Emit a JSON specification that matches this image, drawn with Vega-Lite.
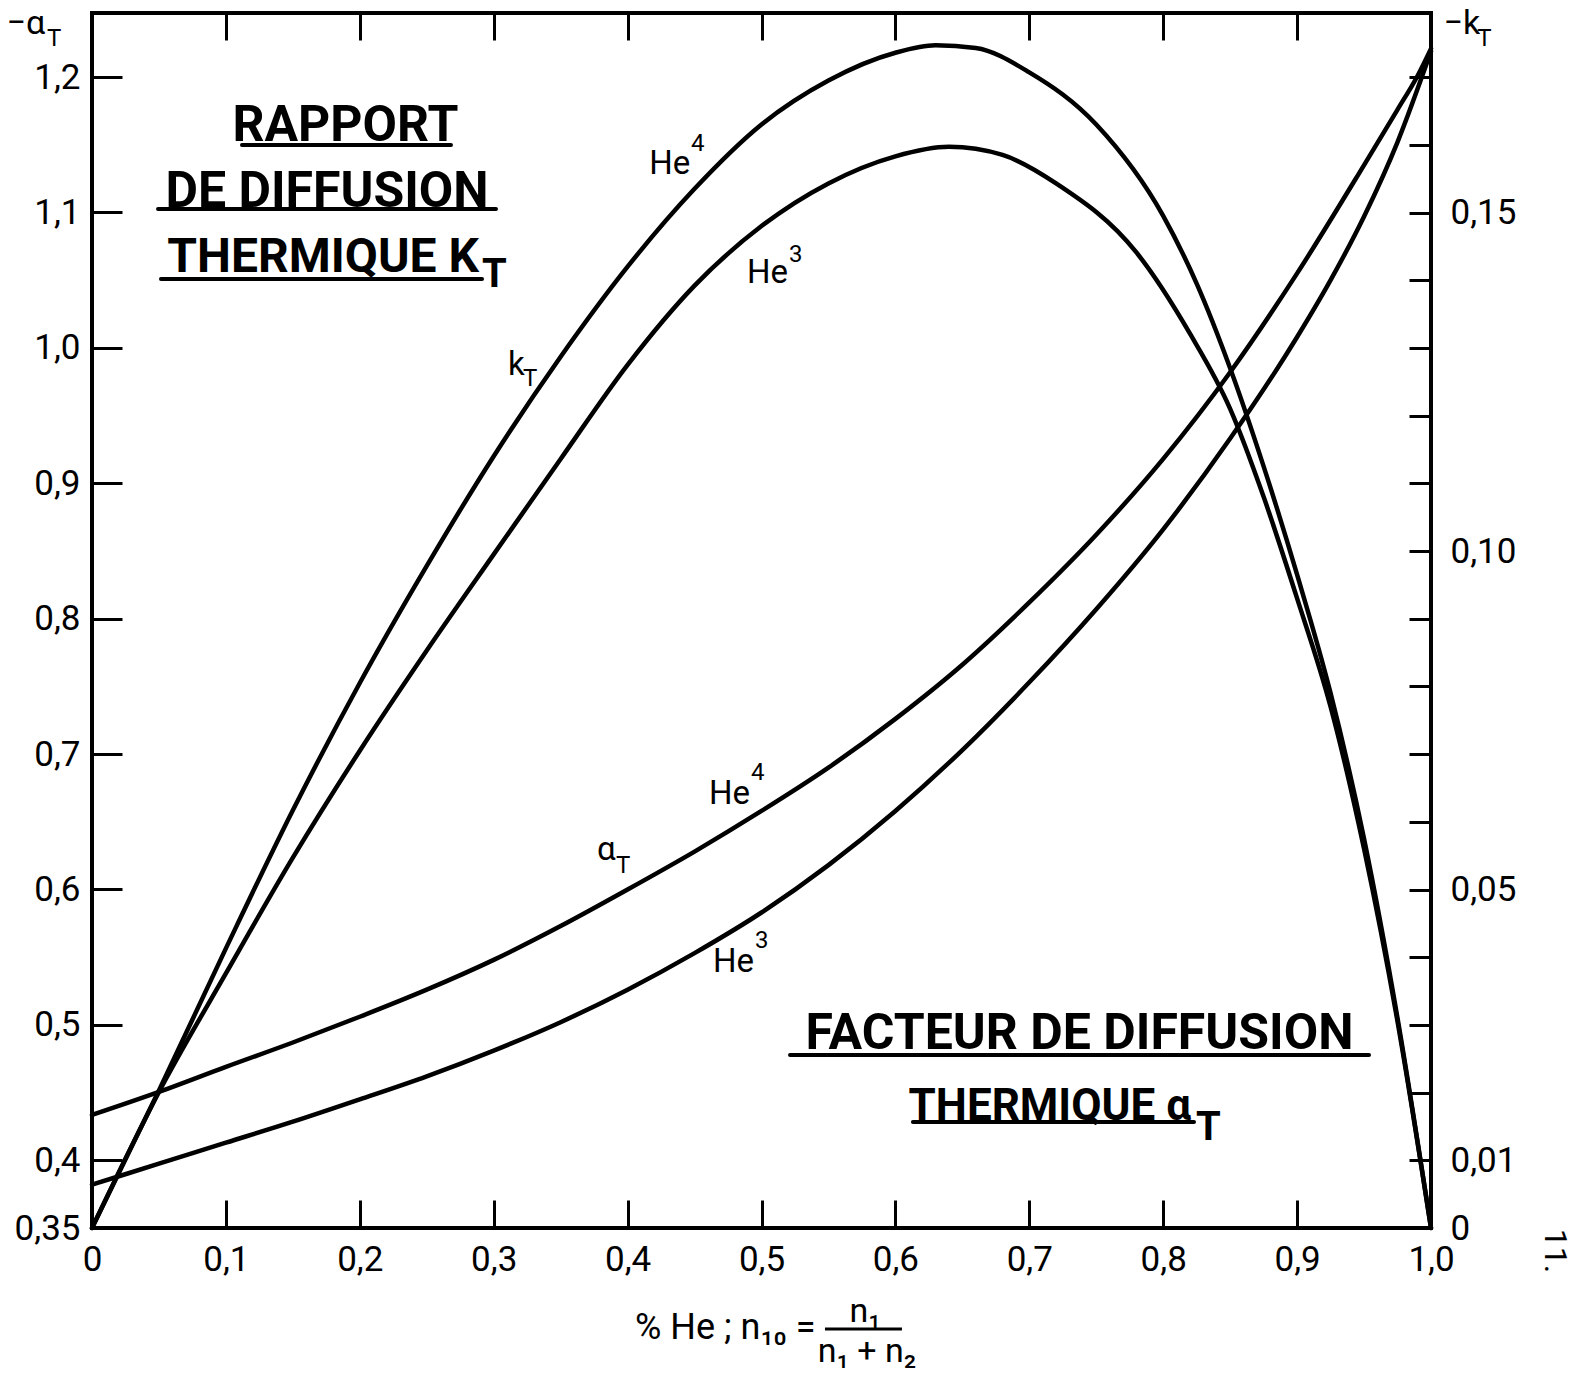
{
  "$schema": "https://vega.github.io/schema/vega-lite/v6.json",
  "width": 1339,
  "height": 1215,
  "autosize": {"type": "none"},
  "padding": {"left": 92, "top": 13, "right": 151, "bottom": 149},
  "background": "white",
  "config": {
    "view": {"stroke": "black", "strokeWidth": 4},
    "font": "Roboto",
    "axis": {"domain": false, "grid": false, "tickColor": "black", "tickWidth": 3, "labelColor": "black", "labelFont": "Roboto", "labelFontSize": 35, "titleColor": "black", "titleFont": "Roboto", "titleFontWeight": "normal", "titleFontSize": 35}
  },
  "datasets": {
    "alpha": [
      {"x": 0, "a": 0.4335, "s": "He4"}, {"x": 0.05, "a": 0.4505, "s": "He4"}, {"x": 0.1, "a": 0.469, "s": "He4"}, {"x": 0.15, "a": 0.487, "s": "He4"}, {"x": 0.2, "a": 0.506, "s": "He4"}, {"x": 0.25, "a": 0.526, "s": "He4"}, {"x": 0.3, "a": 0.548, "s": "He4"}, {"x": 0.35, "a": 0.573, "s": "He4"}, {"x": 0.4, "a": 0.6, "s": "He4"}, {"x": 0.45, "a": 0.628, "s": "He4"}, {"x": 0.5, "a": 0.658, "s": "He4"}, {"x": 0.55, "a": 0.69, "s": "He4"}, {"x": 0.6, "a": 0.726, "s": "He4"}, {"x": 0.65, "a": 0.766, "s": "He4"}, {"x": 0.7, "a": 0.812, "s": "He4"}, {"x": 0.75, "a": 0.862, "s": "He4"}, {"x": 0.8, "a": 0.918, "s": "He4"}, {"x": 0.85, "a": 0.982, "s": "He4"}, {"x": 0.9, "a": 1.055, "s": "He4"}, {"x": 0.95, "a": 1.135, "s": "He4"}, {"x": 0.975, "a": 1.176, "s": "He4"}, {"x": 0.99, "a": 1.201, "s": "He4"}, {"x": 1.0, "a": 1.221, "s": "He4"},
      {"x": 0, "a": 0.382, "s": "He3"}, {"x": 0.05, "a": 0.3975, "s": "He3"}, {"x": 0.1, "a": 0.413, "s": "He3"}, {"x": 0.15, "a": 0.4285, "s": "He3"}, {"x": 0.2, "a": 0.445, "s": "He3"}, {"x": 0.25, "a": 0.462, "s": "He3"}, {"x": 0.3, "a": 0.481, "s": "He3"}, {"x": 0.35, "a": 0.502, "s": "He3"}, {"x": 0.4, "a": 0.526, "s": "He3"}, {"x": 0.45, "a": 0.553, "s": "He3"}, {"x": 0.5, "a": 0.583, "s": "He3"}, {"x": 0.55, "a": 0.618, "s": "He3"}, {"x": 0.6, "a": 0.658, "s": "He3"}, {"x": 0.65, "a": 0.703, "s": "He3"}, {"x": 0.7, "a": 0.753, "s": "He3"}, {"x": 0.75, "a": 0.807, "s": "He3"}, {"x": 0.8, "a": 0.866, "s": "He3"}, {"x": 0.85, "a": 0.933, "s": "He3"}, {"x": 0.9, "a": 1.008, "s": "He3"}, {"x": 0.925, "a": 1.05, "s": "He3"}, {"x": 0.95, "a": 1.097, "s": "He3"}, {"x": 0.975, "a": 1.152, "s": "He3"}, {"x": 1.0, "a": 1.219, "s": "He3"}
    ],
    "kt": [
      {"x": 0, "k": 0, "s": "He4"}, {"x": 0.05, "k": 0.0203, "s": "He4"}, {"x": 0.1, "k": 0.0413, "s": "He4"}, {"x": 0.15, "k": 0.0617, "s": "He4"}, {"x": 0.2, "k": 0.0805, "s": "He4"}, {"x": 0.25, "k": 0.0978, "s": "He4"}, {"x": 0.3, "k": 0.114, "s": "He4"}, {"x": 0.35, "k": 0.1287, "s": "He4"}, {"x": 0.4, "k": 0.142, "s": "He4"}, {"x": 0.45, "k": 0.1535, "s": "He4"}, {"x": 0.5, "k": 0.163, "s": "He4"}, {"x": 0.55, "k": 0.1695, "s": "He4"}, {"x": 0.6, "k": 0.1736, "s": "He4"}, {"x": 0.63, "k": 0.1747, "s": "He4"}, {"x": 0.66, "k": 0.1743, "s": "He4"}, {"x": 0.7, "k": 0.1707, "s": "He4"}, {"x": 0.75, "k": 0.163, "s": "He4"}, {"x": 0.8, "k": 0.1495, "s": "He4"}, {"x": 0.825, "k": 0.1395, "s": "He4"}, {"x": 0.85, "k": 0.127, "s": "He4"}, {"x": 0.875, "k": 0.1125, "s": "He4"}, {"x": 0.9, "k": 0.0965, "s": "He4"}, {"x": 0.925, "k": 0.079, "s": "He4"}, {"x": 0.95, "k": 0.0575, "s": "He4"}, {"x": 0.975, "k": 0.031, "s": "He4"}, {"x": 1.0, "k": 0, "s": "He4"},
      {"x": 0, "k": 0, "s": "He3"}, {"x": 0.05, "k": 0.0201, "s": "He3"}, {"x": 0.1, "k": 0.0376, "s": "He3"}, {"x": 0.15, "k": 0.0547, "s": "He3"}, {"x": 0.2, "k": 0.0705, "s": "He3"}, {"x": 0.25, "k": 0.0853, "s": "He3"}, {"x": 0.3, "k": 0.0995, "s": "He3"}, {"x": 0.35, "k": 0.1136, "s": "He3"}, {"x": 0.4, "k": 0.1275, "s": "He3"}, {"x": 0.45, "k": 0.1392, "s": "He3"}, {"x": 0.5, "k": 0.148, "s": "He3"}, {"x": 0.55, "k": 0.1543, "s": "He3"}, {"x": 0.6, "k": 0.1583, "s": "He3"}, {"x": 0.64, "k": 0.1597, "s": "He3"}, {"x": 0.68, "k": 0.1585, "s": "He3"}, {"x": 0.72, "k": 0.1543, "s": "He3"}, {"x": 0.78, "k": 0.1441, "s": "He3"}, {"x": 0.82, "k": 0.1321, "s": "He3"}, {"x": 0.85, "k": 0.121, "s": "He3"}, {"x": 0.875, "k": 0.108, "s": "He3"}, {"x": 0.9, "k": 0.093, "s": "He3"}, {"x": 0.925, "k": 0.077, "s": "He3"}, {"x": 0.95, "k": 0.056, "s": "He3"}, {"x": 0.975, "k": 0.0305, "s": "He3"}, {"x": 1.0, "k": 0, "s": "He3"}
    ],
    "curveLabels": [
      {"x": 0.4161, "a": 1.1284, "t": "He"},
      {"x": 0.4892, "a": 1.0479, "t": "He"},
      {"x": 0.3107, "a": 0.98, "t": "k"},
      {"x": 0.3771, "a": 0.6218, "t": "α"},
      {"x": 0.4608, "a": 0.6631, "t": "He"},
      {"x": 0.4638, "a": 0.5391, "t": "He"}
    ],
    "smallLabels": [
      {"x": 0.4474, "a": 1.1454, "t": "4"},
      {"x": 0.5205, "a": 1.0634, "t": "3"},
      {"x": 0.3219, "a": 0.9719, "t": "T"},
      {"x": 0.3913, "a": 0.6122, "t": "T"},
      {"x": 0.4922, "a": 0.6809, "t": "4"},
      {"x": 0.4952, "a": 0.5568, "t": "3"},
      {"x": -0.0336, "a": 1.223, "t": "T"},
      {"x": 1.0345, "a": 1.223, "t": "T"}
    ],
    "titlesCenter": [
      {"x": 0.1893, "a": 1.1528, "t": "RAPPORT"},
      {"x": 0.1755, "a": 1.1041, "t": "DE DIFFUSION"},
      {"x": 0.7375, "a": 0.4822, "t": "FACTEUR DE DIFFUSION"}
    ],
    "titleK": [
      {"x": 0.289, "a": 1.0561, "t": "THERMIQUE K"}
    ],
    "titleAlpha": [
      {"x": 0.8208, "a": 0.4298, "t": "THERMIQUE α"}
    ],
    "titleSubs": [
      {"x": 0.2913, "a": 1.045, "t": "T"},
      {"x": 0.8245, "a": 0.415, "t": "T"}
    ],
    "underlines": [
      {"x": 0.112, "x2": 0.2681, "a": 1.1499},
      {"x": 0.0493, "x2": 0.3017, "a": 1.1026},
      {"x": 0.0515, "x2": 0.2913, "a": 1.0509},
      {"x": 0.5213, "x2": 0.9537, "a": 0.4778},
      {"x": 0.6131, "x2": 0.823, "a": 0.4283}
    ],
    "fractionText": [
      {"x": 0.5773, "a": 0.2806, "t": "n₁"},
      {"x": 0.5788, "a": 0.251, "t": "n₁ + n₂"}
    ],
    "fractionBar": [
      {"x": 0.5474, "x2": 0.6049, "a": 0.2754}
    ],
    "pageNote": [
      {"x": 1.0926, "a": 0.333, "t": "11."}
    ]
  },
  "layer": [
    {
      "layer": [
        {
          "data": {"name": "alpha"},
          "mark": {"type": "line", "stroke": "black", "strokeWidth": 4.5, "interpolate": "monotone", "strokeCap": "round"},
          "encoding": {
            "x": {"field": "x", "type": "quantitative", "scale": {"domain": [0, 1], "nice": false, "zero": false},
              "axis": {"orient": "bottom", "values": [0, 0.1, 0.2, 0.3, 0.4, 0.5, 0.6, 0.7, 0.8, 0.9, 1.0], "tickSize": -28, "labelPadding": 42, "labelExpr": "datum.value == 0 ? '0' : replace(format(datum.value, '.1f'), '.', ',')", "labelFlush": false, "labelOverlap": false, "title": "% He ; n₁₀ =", "titleX": 723, "titleY": 110, "titleAlign": "right", "titleBaseline": "alphabetic", "titleFontSize": 36}},
            "y": {"field": "a", "type": "quantitative", "scale": {"domain": [0.35, 1.2473], "nice": false, "zero": false},
              "axis": {"orient": "left", "values": [0.35, 0.4, 0.5, 0.6, 0.7, 0.8, 0.9, 1.0, 1.1, 1.2], "tickSize": -30, "labelPadding": 42, "labelExpr": "datum.value < 0.36 ? '0,35' : replace(format(datum.value, '.1f'), '.', ',')", "labelFlush": false, "labelOverlap": false, "title": "−α", "titleAngle": 0, "titleX": -86, "titleY": 20, "titleAlign": "left", "titleBaseline": "alphabetic", "titleFontSize": 34}},
            "detail": {"field": "s", "type": "nominal"}
          }
        },
        {
          "data": {"name": "curveLabels"},
          "mark": {"type": "text", "align": "left", "baseline": "alphabetic", "fontSize": 33, "font": "Roboto", "color": "black"},
          "encoding": {
            "x": {"field": "x", "type": "quantitative", "scale": {"domain": [0, 1], "nice": false, "zero": false}},
            "y": {"field": "a", "type": "quantitative", "scale": {"domain": [0.35, 1.2473], "nice": false, "zero": false}},
            "text": {"field": "t", "type": "nominal"}
          }
        },
        {
          "data": {"name": "smallLabels"},
          "mark": {"type": "text", "align": "left", "baseline": "alphabetic", "fontSize": 24, "font": "Roboto", "color": "black"},
          "encoding": {
            "x": {"field": "x", "type": "quantitative", "scale": {"domain": [0, 1], "nice": false, "zero": false}},
            "y": {"field": "a", "type": "quantitative", "scale": {"domain": [0.35, 1.2473], "nice": false, "zero": false}},
            "text": {"field": "t", "type": "nominal"}
          }
        },
        {
          "data": {"name": "titlesCenter"},
          "mark": {"type": "text", "align": "center", "baseline": "alphabetic", "fontSize": 50, "fontWeight": "bold", "font": "Roboto", "color": "black"},
          "encoding": {
            "x": {"field": "x", "type": "quantitative", "scale": {"domain": [0, 1], "nice": false, "zero": false}},
            "y": {"field": "a", "type": "quantitative", "scale": {"domain": [0.35, 1.2473], "nice": false, "zero": false}},
            "text": {"field": "t", "type": "nominal"}
          }
        },
        {
          "data": {"name": "titleK"},
          "mark": {"type": "text", "align": "right", "baseline": "alphabetic", "fontSize": 48, "fontWeight": "bold", "font": "Roboto", "color": "black"},
          "encoding": {
            "x": {"field": "x", "type": "quantitative", "scale": {"domain": [0, 1], "nice": false, "zero": false}},
            "y": {"field": "a", "type": "quantitative", "scale": {"domain": [0.35, 1.2473], "nice": false, "zero": false}},
            "text": {"field": "t", "type": "nominal"}
          }
        },
        {
          "data": {"name": "titleAlpha"},
          "mark": {"type": "text", "align": "right", "baseline": "alphabetic", "fontSize": 44, "fontWeight": "bold", "font": "Roboto", "color": "black"},
          "encoding": {
            "x": {"field": "x", "type": "quantitative", "scale": {"domain": [0, 1], "nice": false, "zero": false}},
            "y": {"field": "a", "type": "quantitative", "scale": {"domain": [0.35, 1.2473], "nice": false, "zero": false}},
            "text": {"field": "t", "type": "nominal"}
          }
        },
        {
          "data": {"name": "titleSubs"},
          "mark": {"type": "text", "align": "left", "baseline": "alphabetic", "fontSize": 40, "fontWeight": "bold", "font": "Roboto", "color": "black"},
          "encoding": {
            "x": {"field": "x", "type": "quantitative", "scale": {"domain": [0, 1], "nice": false, "zero": false}},
            "y": {"field": "a", "type": "quantitative", "scale": {"domain": [0.35, 1.2473], "nice": false, "zero": false}},
            "text": {"field": "t", "type": "nominal"}
          }
        },
        {
          "data": {"name": "underlines"},
          "mark": {"type": "rule", "stroke": "black", "strokeWidth": 4, "strokeCap": "round"},
          "encoding": {
            "x": {"field": "x", "type": "quantitative", "scale": {"domain": [0, 1], "nice": false, "zero": false}},
            "x2": {"field": "x2"},
            "y": {"field": "a", "type": "quantitative", "scale": {"domain": [0.35, 1.2473], "nice": false, "zero": false}}
          }
        },
        {
          "data": {"name": "fractionText"},
          "mark": {"type": "text", "align": "center", "baseline": "alphabetic", "fontSize": 34, "font": "Roboto", "color": "black"},
          "encoding": {
            "x": {"field": "x", "type": "quantitative", "scale": {"domain": [0, 1], "nice": false, "zero": false}},
            "y": {"field": "a", "type": "quantitative", "scale": {"domain": [0.35, 1.2473], "nice": false, "zero": false}},
            "text": {"field": "t", "type": "nominal"}
          }
        },
        {
          "data": {"name": "fractionBar"},
          "mark": {"type": "rule", "stroke": "black", "strokeWidth": 3},
          "encoding": {
            "x": {"field": "x", "type": "quantitative", "scale": {"domain": [0, 1], "nice": false, "zero": false}},
            "x2": {"field": "x2"},
            "y": {"field": "a", "type": "quantitative", "scale": {"domain": [0.35, 1.2473], "nice": false, "zero": false}}
          }
        },
        {
          "data": {"name": "pageNote"},
          "mark": {"type": "text", "align": "center", "baseline": "middle", "angle": 90, "fontSize": 32, "font": "Roboto", "color": "black"},
          "encoding": {
            "x": {"field": "x", "type": "quantitative", "scale": {"domain": [0, 1], "nice": false, "zero": false}},
            "y": {"field": "a", "type": "quantitative", "scale": {"domain": [0.35, 1.2473], "nice": false, "zero": false}},
            "text": {"field": "t", "type": "nominal"}
          }
        }
      ]
    },
    {
      "data": {"name": "kt"},
      "mark": {"type": "line", "stroke": "black", "strokeWidth": 4.5, "interpolate": "monotone", "strokeCap": "round"},
      "encoding": {
        "x": {"field": "x", "type": "quantitative", "scale": {"domain": [0, 1], "nice": false, "zero": false},
          "axis": {"orient": "top", "values": [0.1, 0.2, 0.3, 0.4, 0.5, 0.6, 0.7, 0.8, 0.9], "tickSize": -27, "labels": false, "title": null}},
        "y": {"field": "k", "type": "quantitative", "scale": {"domain": [0, 0.17947], "nice": false, "zero": false},
          "axis": {"orient": "right", "values": [0, 0.01, 0.02, 0.03, 0.04, 0.05, 0.06, 0.07, 0.08, 0.09, 0.1, 0.11, 0.12, 0.13, 0.14, 0.15, 0.16, 0.17], "tickSize": -22, "labelPadding": 41, "labelFlush": false, "labelOverlap": false, "labelExpr": "datum.value < 0.005 ? '0' : ((abs(datum.value - 0.01) < 0.001 || abs(datum.value - 0.05) < 0.001 || abs(datum.value - 0.1) < 0.001 || abs(datum.value - 0.15) < 0.001) ? replace(format(datum.value, '.2f'), '.', ',') : '')", "title": "−k", "titleAngle": 0, "titleX": 12, "titleY": 20, "titleAlign": "left", "titleBaseline": "alphabetic", "titleFontSize": 34}},
        "detail": {"field": "s", "type": "nominal"}
      }
    }
  ],
  "resolve": {"scale": {"y": "independent"}, "axis": {"x": "independent"}}
}
